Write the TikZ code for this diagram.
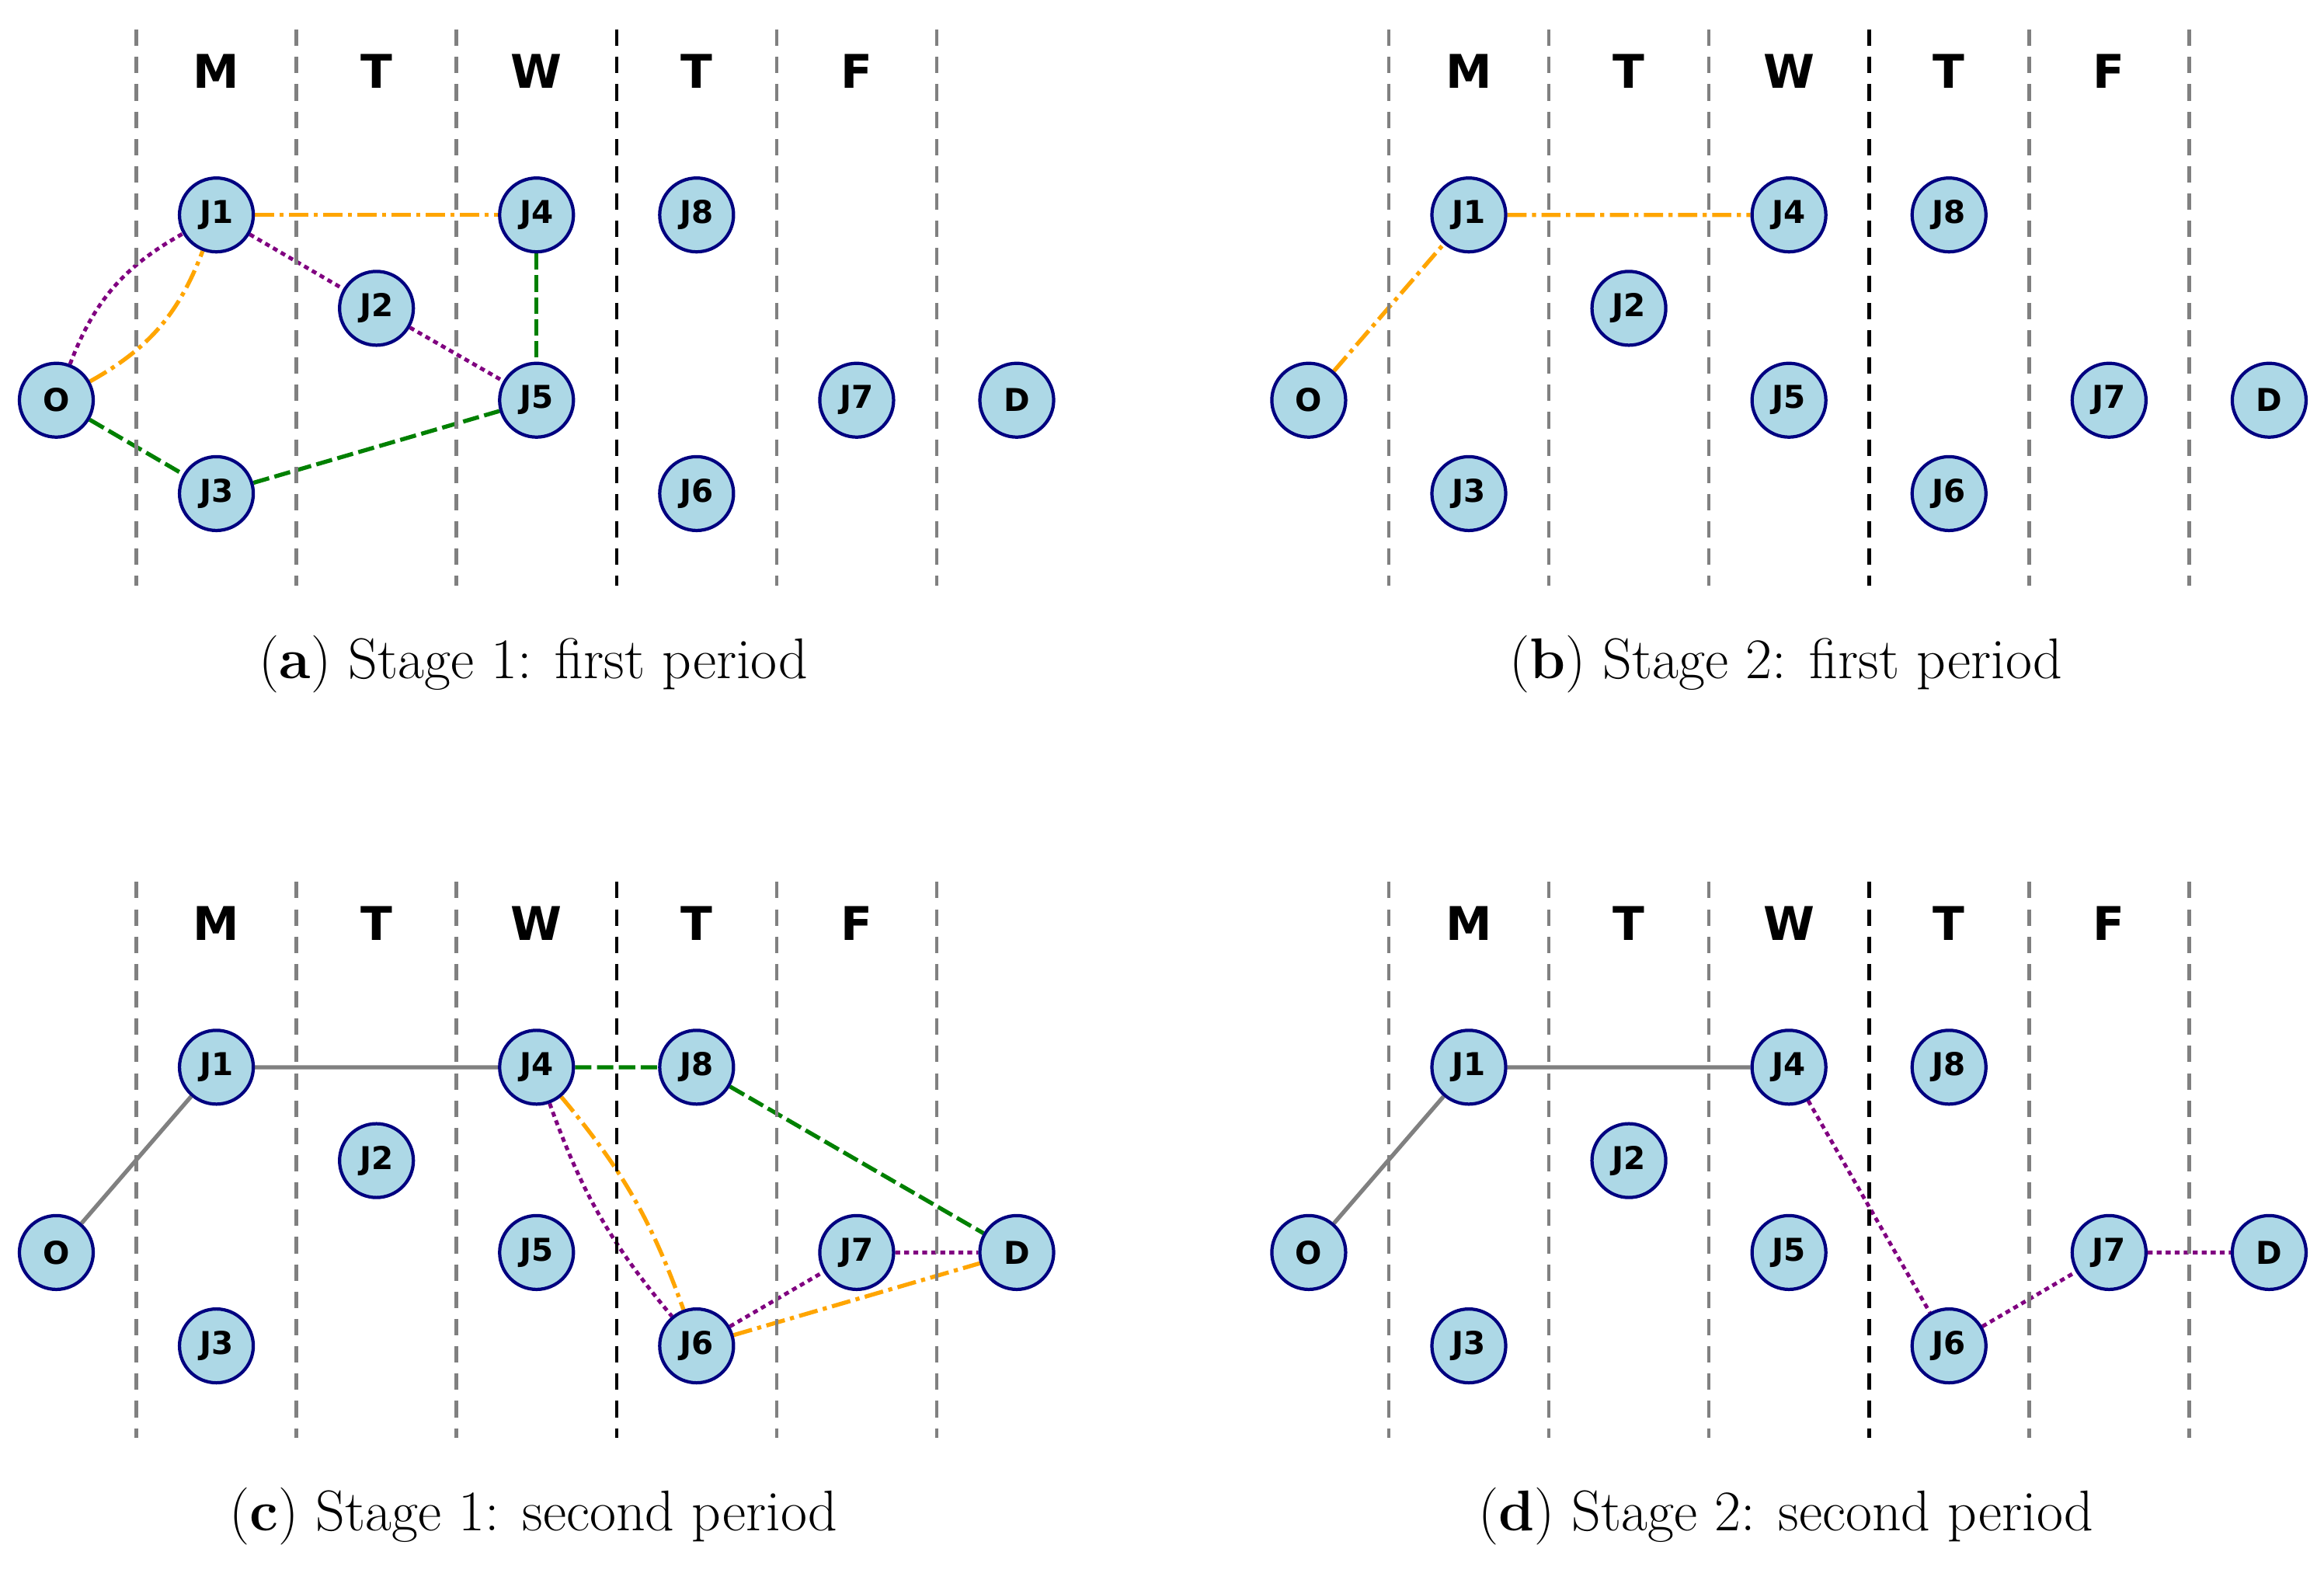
\documentclass[tikz,border=0pt]{standalone}
\usepackage{fontspec}
\usetikzlibrary{backgrounds}
\newfontfamily\dv{DejaVu Sans}
\begin{document}
\definecolor{lb}{RGB}{173,216,230}
\definecolor{nv}{RGB}{0,0,128}
\definecolor{og}{RGB}{255,165,0}
\definecolor{pu}{RGB}{128,0,128}
\definecolor{gr}{RGB}{0,128,0}
\newcommand\mypanel[1]{%
 \foreach \x in {92,200,308,524,632}{\draw[gray,line width=1.3pt,dash pattern=on 6pt off 4pt] (\x,20)--(\x,395);}
 \draw[black,line width=1.3pt,dash pattern=on 6pt off 4pt] (416,20)--(416,395);
 \foreach \l/\x in {M/146,T/254,W/362,T/470,F/578}{\node[day] at (\x,48) {\l};}
 \node[jn] (#1O) at (38,270) {O};
 \node[jn] (#1J1) at (146,145) {J1};
 \node[jn] (#1J2) at (254,208) {J2};
 \node[jn] (#1J3) at (146,333) {J3};
 \node[jn] (#1J4) at (362,145) {J4};
 \node[jn] (#1J5) at (362,270) {J5};
 \node[jn] (#1J8) at (470,145) {J8};
 \node[jn] (#1J6) at (470,333) {J6};
 \node[jn] (#1J7) at (578,270) {J7};
 \node[jn] (#1D) at (686,270) {D};
}
\begin{tikzpicture}[x=0.01908cm,y=-0.01908cm,
 jn/.style={circle,draw=nv,fill=lb,line width=1.2pt,minimum size=0.95cm,inner sep=0pt,font=\dv\bfseries\fontsize{11.5}{12}\selectfont},
 day/.style={font=\dv\bfseries\fontsize{17}{17}\selectfont},
 captxt/.style={font=\fontsize{21}{21}\selectfont},
 ore/.style={og,line width=1.5pt,dash pattern=on 7pt off 2pt on 1.5pt off 2pt},
 pue/.style={pu,line width=1.4pt,dash pattern=on 1.8pt off 1.5pt},
 gre/.style={gr,line width=1.5pt,dash pattern=on 6pt off 2pt},
 gye/.style={gray,line width=1.5pt}]
\useasboundingbox (0,0) rectangle (1568,1061);
\mypanel{a}
\begin{scope}[shift={(845,0)}]\mypanel{b}\end{scope}
\begin{scope}[shift={(0,575)}]\mypanel{c}\end{scope}
\begin{scope}[shift={(845,575)}]\mypanel{d}\end{scope}
\begin{scope}[on background layer]
\draw[ore] (aJ1)--(aJ4);
\draw[pue] (aO) to[bend left=20] (aJ1);
\draw[ore] (aO) to[bend right=20] (aJ1);
\draw[pue] (aJ1)--(aJ2)--(aJ5);
\draw[gre] (aJ4)--(aJ5);
\draw[gre] (aO)--(aJ3)--(aJ5);
\draw[ore] (bO)--(bJ1)--(bJ4);
\draw[gye] (cO)--(cJ1)--(cJ4);
\draw[gre] (cJ4)--(cJ8)--(cD);
\draw[pue] (cJ4) to[bend right=10] (cJ6);
\draw[ore] (cJ4) to[bend left=10] (cJ6);
\draw[pue] (cJ6)--(cJ7)--(cD);
\draw[ore] (cJ6)--(cD);
\draw[gye] (dO)--(dJ1)--(dJ4);
\draw[pue] (dJ4)--(dJ6)--(dJ7)--(dD);
\end{scope}
\node[captxt] at (360,448) {(\textbf{a}) Stage 1: first period};
\node[captxt] at (1205,448) {(\textbf{b}) Stage 2: first period};
\node[captxt] at (360,1023) {(\textbf{c}) Stage 1: second period};
\node[captxt] at (1205,1023) {(\textbf{d}) Stage 2: second period};
\end{tikzpicture}
\end{document}
